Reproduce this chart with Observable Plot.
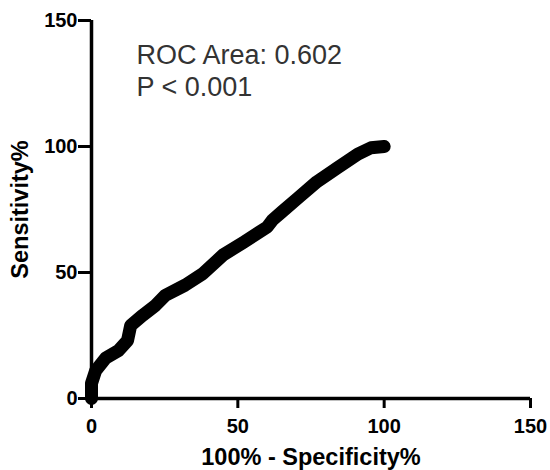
<!DOCTYPE html>
<html>
<head>
<meta charset="utf-8">
<script src="https://cdn.jsdelivr.net/npm/d3@7"></script>
<script src="https://cdn.jsdelivr.net/npm/@observablehq/plot@0.6"></script>
<style>
  html, body { margin: 0; padding: 0; background: #fff; }
</style>
</head>
<body>
<div id="chart"></div>
<script>
// ROC curve: 100% - specificity% (x) vs sensitivity% (y)
const fpr = [0, 0, 1.4, 4.8, 9.2, 12.3, 13.4, 17.5, 21.9, 25.3, 32, 38, 45, 52, 60, 62, 65, 70.5, 77, 84, 91, 95.5, 100];
const tpr = [0, 6, 11, 16, 19, 23, 29, 33, 37, 41, 45, 49.5, 57, 62, 68, 71, 74, 79.5, 86, 91.5, 97, 99.5, 100];
const xTicks = [0, 50, 100, 150];
const yTicks = [0, 50, 100, 150];
const annotation = ["ROC Area: 0.602", "P < 0.001"];
const xLabel = "100% - Specificity%";
const yLabel = "Sensitivity%";

const points = fpr.map((x, i) => ({x, y: tpr[i]}));

const chart = Plot.plot({
  width: 550,
  height: 470,
  marginLeft: 91,
  marginRight: 20,
  marginTop: 20,
  marginBottom: 72,
  style: {fontFamily: "'Liberation Sans', Arial, sans-serif", background: "#fff", color: "#000"},
  x: {domain: [0, 150]},
  y: {domain: [0, 150]},
  marks: [
    Plot.axisX({ticks: xTicks, tickSize: 10, tickPadding: 10, strokeWidth: 3, fontSize: 20, fontWeight: "bold", tickFormat: d => d, label: null}),
    Plot.axisY({ticks: yTicks, tickSize: 13, tickPadding: 1, strokeWidth: 3, fontSize: 20, fontWeight: "bold", tickFormat: d => d, label: null}),
    Plot.ruleY([0], {strokeWidth: 3.5}),
    Plot.ruleX([0], {strokeWidth: 3.5}),
    Plot.line(points, {x: "x", y: "y", stroke: "#000", strokeWidth: 13, strokeLinecap: "round", strokeLinejoin: "round"}),
    Plot.text([annotation.join("\n")], {frameAnchor: "top-left", textAnchor: "start", lineAnchor: "top", dx: 45, dy: 21, fontSize: 27, lineHeight: 1.185, fill: "#333"}),
    Plot.text([xLabel], {frameAnchor: "bottom", lineAnchor: "middle", dy: 59, fontSize: 23.5, fontWeight: "bold", fill: "#000"}),
    Plot.text([yLabel], {frameAnchor: "left", textAnchor: "middle", lineAnchor: "middle", rotate: -90, dx: -71, fontSize: 23.5, fontWeight: "bold", fill: "#000"})
  ]
});
document.getElementById("chart").appendChild(chart);
</script>
</body>
</html>
